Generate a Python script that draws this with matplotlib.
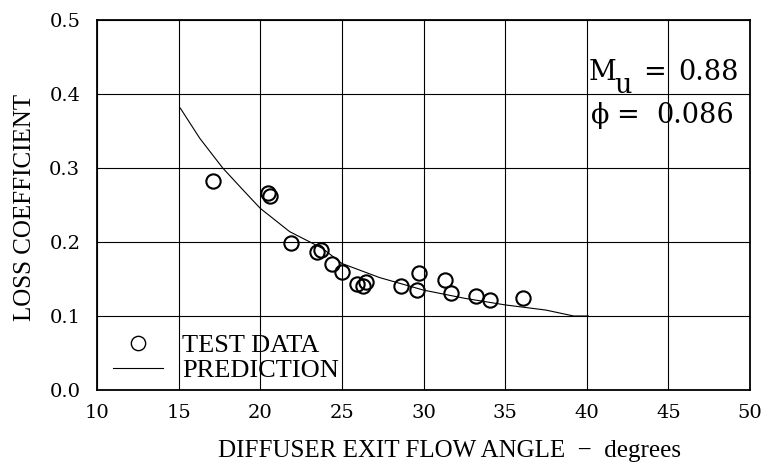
import matplotlib
matplotlib.use('Agg')
import matplotlib.pyplot as plt
from matplotlib.lines import Line2D

# ---- data ----
test_angle = [17.1, 20.5, 20.6, 21.9, 23.5, 23.7, 24.4, 25.0, 25.9, 26.3, 26.5,
              28.6, 29.6, 29.7, 31.3, 31.7, 33.2, 34.1, 36.1]
test_loss = [0.282, 0.266, 0.262, 0.199, 0.186, 0.189, 0.170, 0.160, 0.143, 0.140, 0.146,
             0.140, 0.135, 0.158, 0.149, 0.131, 0.127, 0.122, 0.124]

pred_angle = [15.1, 16.3, 17.7, 19.0, 20.0, 21.8, 23.8, 25.0, 27.3, 30.0, 32.5,
              35.0, 37.5, 39.2, 40.1]
pred_loss = [0.381, 0.340, 0.300, 0.269, 0.2455, 0.214, 0.1915, 0.171, 0.152, 0.135, 0.124,
             0.115, 0.108, 0.100, 0.100]

x_ticks = [10, 15, 20, 25, 30, 35, 40, 45, 50]
y_ticks = [0.0, 0.1, 0.2, 0.3, 0.4, 0.5]
y_tick_labels = ['0.0', '0.1', '0.2', '0.3', '0.4', '0.5']

# ---- figure ----
fig = plt.figure(figsize=(7.63, 4.68), dpi=100)
ax = fig.add_axes([97/763, 78/468, 653/763, 370/468])

label_font = 'Liberation Serif'
num_font = 'DejaVu Serif'

ax.plot(pred_angle, pred_loss, color='black', lw=0.8, zorder=3)
ax.plot(test_angle, test_loss, linestyle='none', marker='o', ms=10.3,
        mfc='none', mec='black', mew=1.5, zorder=4)

ax.set_xlim(10, 50)
ax.set_ylim(0, 0.5)
ax.set_xticks(x_ticks)
ax.set_yticks(y_ticks)
ax.set_yticklabels(y_tick_labels)
ax.grid(True, color='black', lw=0.8)
ax.set_axisbelow(True)
ax.tick_params(axis='both', length=0, labelsize=14)
ax.tick_params(axis='x', pad=10)
ax.tick_params(axis='y', pad=12)
for lab in ax.get_xticklabels() + ax.get_yticklabels():
    lab.set_family(num_font)

for s in ax.spines.values():
    s.set_linewidth(1.3)
    s.set_color('black')

ax.set_xlabel('DIFFUSER EXIT FLOW ANGLE  −  degrees', family=label_font, fontsize=18)
ax.set_ylabel('LOSS COEFFICIENT', family=label_font, fontsize=18)
ax.xaxis.set_label_coords((450 - 97) / 653, (390 - 440) / 370)
ax.yaxis.set_label_coords((36 - 97) / 653, (390 - 207) / 370)

# legend
handles = [Line2D([], [], linestyle='none', marker='o', ms=10.3, mfc='none',
                  mec='black', mew=1.0),
           Line2D([], [], color='black', lw=0.8)]
leg = ax.legend(handles, ['TEST DATA', 'PREDICTION'], loc='lower left',
                bbox_to_anchor=((113 - 97) / 653, 0.022), frameon=False,
                borderpad=0, borderaxespad=0, handlelength=1.88,
                handletextpad=0.73, labelspacing=0.05,
                prop={'family': label_font, 'size': 19})

# annotation
def atx(px):
    return (px - 97) / 653

def aty(py):
    return (390 - py) / 370

afs = 19.5
ax.text(atx(589), aty(80), 'M', transform=ax.transAxes, family=num_font,
        fontsize=afs, va='baseline', ha='left')
ax.text(atx(614), aty(93), 'u', transform=ax.transAxes, family=num_font,
        fontsize=afs, va='baseline', ha='left')
ax.text(atx(643), aty(80), '=', transform=ax.transAxes, family=num_font,
        fontsize=afs, va='baseline', ha='left')
ax.text(atx(739), aty(80), '0.88', transform=ax.transAxes, family=num_font,
        fontsize=afs, va='baseline', ha='right')
ax.text(atx(591), aty(123), 'ϕ', transform=ax.transAxes, family=num_font,
        fontsize=afs, va='baseline', ha='left')
ax.text(atx(616), aty(123), '=', transform=ax.transAxes, family=num_font,
        fontsize=afs, va='baseline', ha='left')
ax.text(atx(734), aty(123), '0.086', transform=ax.transAxes, family=num_font,
        fontsize=afs, va='baseline', ha='right')

fig.savefig('out.png', dpi=100)
